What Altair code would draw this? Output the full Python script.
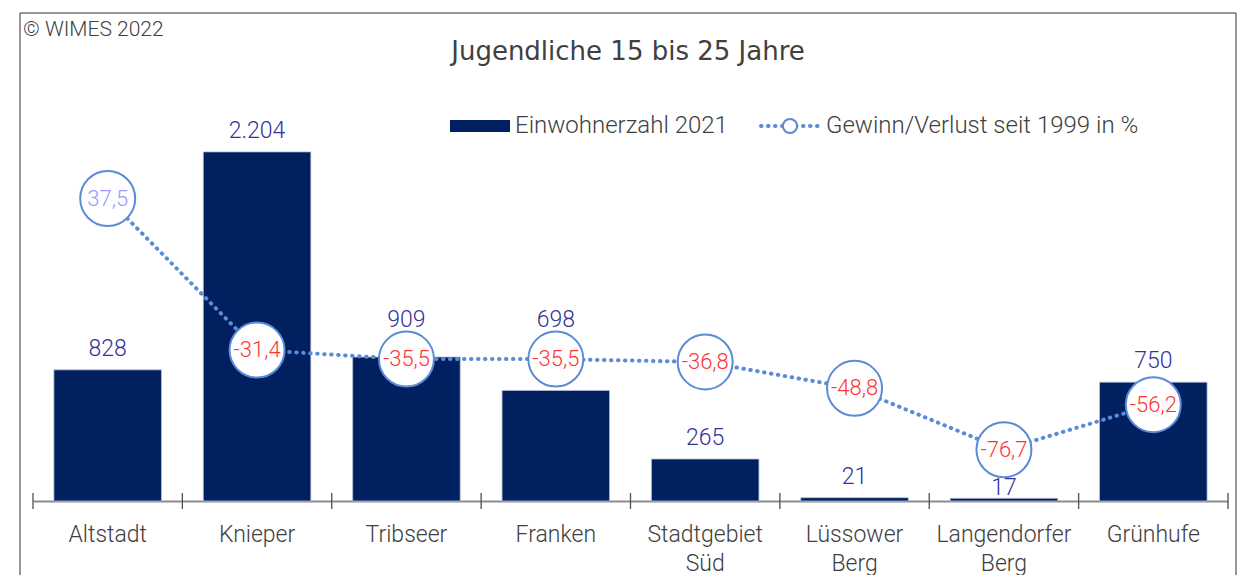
import altair as alt
import pandas as pd

categories = ["Altstadt", "Knieper", "Tribseer", "Franken", "Stadtgebiet Süd",
              "Lüssower Berg", "Langendorfer Berg", "Grünhufe"]
einwohner = [828, 2204, 909, 698, 265, 21, 17, 750]
veraenderung = [37.5, -31.4, -35.5, -35.5, -36.8, -48.8, -76.7, -56.2]

df = pd.DataFrame({"Stadtteil": categories, "Einwohner": einwohner,
                   "Veraenderung": veraenderung})
df_ticks = pd.DataFrame({"grenze": list(range(len(categories) + 1))})

W, H = 1195, 396
BAR_MAX = 2500
LINE_MIN, LINE_MAX = -100, 80
FONT = "Roboto"
TXT = "#404040"
NAVY = "#002060"
LINEC = "#5B8BD6"
DASH = [0.5, 6.5]
K = BAR_MAX / H  # bar units per pixel

xscale = alt.Scale(paddingInner=0.28, paddingOuter=0.14)

x_main = alt.X("Stadtteil:N", sort=categories, title=None, scale=xscale,
               axis=alt.Axis(labelAngle=0, ticks=False,
                             domainColor="#8c8c8c", domainWidth=2,
                             labelFont=FONT, labelFontSize=23, labelFontWeight=300,
                             labelColor=TXT, labelPadding=22,
                             labelExpr="split(datum.label, ' ')",
                             labelLineHeight=29, grid=False))
x_plain = alt.X("Stadtteil:N", sort=categories, title=None, scale=xscale, axis=None)

base = alt.Chart(df)

# tick marks at category boundaries, crossing the axis line
ticks = alt.Chart(df_ticks).mark_rule(color="#505050", strokeWidth=1.3).encode(
    x=alt.X("grenze:Q", scale=alt.Scale(domain=[0, len(categories)], nice=False), axis=None),
    y=alt.value(H - 8), y2=alt.value(H + 8))

y_bar = alt.Y("Einwohner:Q", scale=alt.Scale(domain=[0, BAR_MAX]), axis=None)
bars = base.mark_bar(color=NAVY, stroke="#b8c0d6", strokeWidth=0.8).encode(x=x_main, y=y_bar)

bar_labels = base.transform_calculate(
    lab="replace(format(datum.Einwohner, ','), ',', '.')",
    cb=f"(datum.Veraenderung - ({LINE_MIN})) / {LINE_MAX - LINE_MIN} * {BAR_MAX}",
    d=f"(datum.Einwohner + 21 * {K} - datum.cb) / {K}",
    ylab=f"datum.d > -20 && datum.d < 40 ? datum.cb + 39 * {K} : "
         f"(datum.d > -40 && datum.d <= -20 ? datum.Einwohner + 10 * {K} : datum.Einwohner + 21 * {K})"
).mark_text(font=FONT, fontSize=23, fontWeight=300, color="#333399",
            baseline="middle").encode(
    x=x_main,
    y=alt.Y("ylab:Q", scale=alt.Scale(domain=[0, BAR_MAX]), axis=None),
    text="lab:N")
bar_layer = alt.layer(bars, bar_labels)

y_line = alt.Y("Veraenderung:Q", scale=alt.Scale(domain=[LINE_MIN, LINE_MAX]), axis=None)
line = base.mark_line(color=LINEC, strokeWidth=4, strokeDash=DASH,
                      strokeCap="round").encode(x=x_plain, y=y_line)
points = base.mark_point(shape="circle", size=3025, fill="white", filled=True,
                         stroke=LINEC, strokeWidth=2, opacity=1).encode(x=x_plain, y=y_line)
point_labels = base.transform_calculate(
    lab="replace(replace(format(datum.Veraenderung, '.1f'), '.', ','), '\u2212', '-')"
).mark_text(font=FONT, fontSize=22, fontWeight=300, baseline="middle").encode(
    x=x_plain, y=y_line, text="lab:N",
    color=alt.condition("datum.Veraenderung >= 0", alt.value("#9999FF"), alt.value("#FF3333")))
line_layer = alt.layer(line, points, point_labels)

one = alt.Chart(alt.Data(values=[{"a": 1}]))

border = one.mark_rect(fillOpacity=0, stroke="#303030", strokeWidth=1).encode(
    x=alt.value(-13), x2=alt.value(1203), y=alt.value(-92), y2=alt.value(620))

title = one.mark_text(font="DejaVu Sans", fontSize=26, color=TXT,
                      align="center", baseline="middle").encode(
    x=alt.value(595), y=alt.value(-53), text=alt.value("Jugendliche 15 bis 25 Jahre"))
copyright_t = one.mark_text(font=FONT, fontSize=21, fontWeight=300, color=TXT,
                            align="left", baseline="middle").encode(
    x=alt.value(-10), y=alt.value(-75), text=alt.value("© WIMES 2022"))

leg_rect = one.mark_rect(color=NAVY).encode(
    x=alt.value(417), x2=alt.value(477), y=alt.value(15), y2=alt.value(27))
leg_text1 = one.mark_text(font=FONT, fontSize=24, fontWeight=300, color=TXT,
                          align="left", baseline="middle").encode(
    x=alt.value(482), y=alt.value(21), text=alt.value("Einwohnerzahl 2021"))
leg_line = one.mark_rule(color=LINEC, strokeWidth=4, strokeDash=DASH,
                         strokeCap="round").encode(
    x=alt.value(728), x2=alt.value(788), y=alt.value(21))
leg_pt = one.mark_point(shape="circle", size=200, fill="white", filled=True,
                        stroke=LINEC, strokeWidth=2, opacity=1).encode(
    x=alt.value(757), y=alt.value(21))
leg_text2 = one.mark_text(font=FONT, fontSize=24, fontWeight=300, color=TXT,
                          align="left", baseline="middle").encode(
    x=alt.value(793), y=alt.value(21), text=alt.value("Gewinn/Verlust seit 1999 in %"))

chart = alt.layer(
    border, bar_layer, ticks, line_layer, title, copyright_t,
    leg_rect, leg_text1, leg_line, leg_pt, leg_text2
).resolve_scale(x="independent", y="independent").properties(
    width=W, height=H,
    padding={"left": 25, "top": 97, "right": 9, "bottom": 74},
    autosize=alt.AutoSizeParams(type="none"),
).configure_view(strokeWidth=0)

chart.save("out.html", embed_options={"renderer": "svg", "actions": False})
